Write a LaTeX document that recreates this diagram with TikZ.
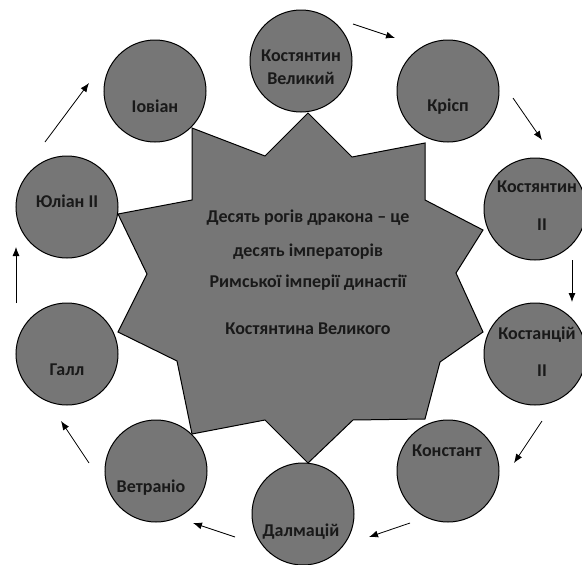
\documentclass[tikz,border=0pt]{standalone}
\usepackage{fontspec}
\setmainfont{Carlito}
\usetikzlibrary{arrows.meta}
\definecolor{ringgray}{RGB}{118,118,118}
\begin{document}
\begin{tikzpicture}[>={Latex[length=9pt,width=7pt]}, x=1pt, y=-1pt,
  emperor/.style={circle, draw, fill=ringgray, line width=1pt, minimum size=102pt, inner sep=0pt},
  word/.style={font=\bfseries\fontsize{18}{21}\selectfont, text=black!90, inner sep=0pt, text height=12pt, text depth=4pt}]
\useasboundingbox (0,0) rectangle (582,565);

% star in the middle
\draw[fill=ringgray, line width=1pt](308,113)--(352,157)--(425,143)--(425,200)--(483,230)--(456,273)--(483,332)--(440,362)--(425,419)--(353,420)--(308,463)--(265,420)--(192,434)--(177,361)--(118,332)--(147,274)--(118,214)--(192,200)--(192,128)--(265,156)--cycle;
\node[word] (line1) at (308,218) {Десять рогів дракона – це};
\node[word] (line2) at (308,252) {десять імператорів};
\node[word] (line3) at (308,283) {Римської імперії династії};
\node[word] (line4) at (308,330) {Костянтина Великого};

% emperors
\node[emperor] (kv) at (301,61) {};
\node[emperor] (krisp) at (448,91) {};
\node[emperor] (k2) at (535,209) {};
\node[emperor] (kc2) at (535,354) {};
\node[emperor] (konst) at (448,471) {};
\node[emperor] (dalm) at (303,514) {};
\node[emperor] (vetr) at (156,471) {};
\node[emperor] (gall) at (67,354) {};
\node[emperor] (jul) at (67,207) {};
\node[emperor] (iov) at (155,91) {};

\node[word] (kv-a) at (301,57) {Костянтин};
\node[word] (kv-b) at (301,80) {Великий};
\node[word] (krisp-a) at (448,107) {Крісп};
\node[word] (k2-a) at (537,188) {Костянтин};
\node[word] (k2-b) at (542,226) {II};
\node[word] (kc2-a) at (537,335) {Костанцій};
\node[word] (kc2-b) at (542,372) {II};
\node[word] (konst-a) at (447,452) {Констант};
\node[word] (dalm-a) at (301,532) {Далмацій};
\node[word] (vetr-a) at (151,488) {Ветраніо};
\node[word] (gall-a) at (67,371) {Галл};
\node[word] (jul-a) at (67,203) {Юліан II};
\node[word] (iov-a) at (155,108) {Іовіан};

% arrows round the ring
\coordinate (s1) at (353,24);  \coordinate (e1) at (395,38);
\coordinate (s2) at (513,98);  \coordinate (e2) at (542,140);
\coordinate (s3) at (572,260); \coordinate (e3) at (572,302);
\coordinate (s4) at (542,421); \coordinate (e4) at (514,463);
\coordinate (s5) at (410,523); \coordinate (e5) at (369,537);
\coordinate (s6) at (235,537); \coordinate (e6) at (193,523);
\coordinate (s7) at (89,463);  \coordinate (e7) at (61,421);
\coordinate (s8) at (16,303);  \coordinate (e8) at (16,247);
\coordinate (s9) at (45,142);  \coordinate (e9) at (89,83);
\foreach \i in {1,...,9}
{
    \draw[->, line width=0.8pt](s\i)--(e\i);
}
\end{tikzpicture}
\end{document}
